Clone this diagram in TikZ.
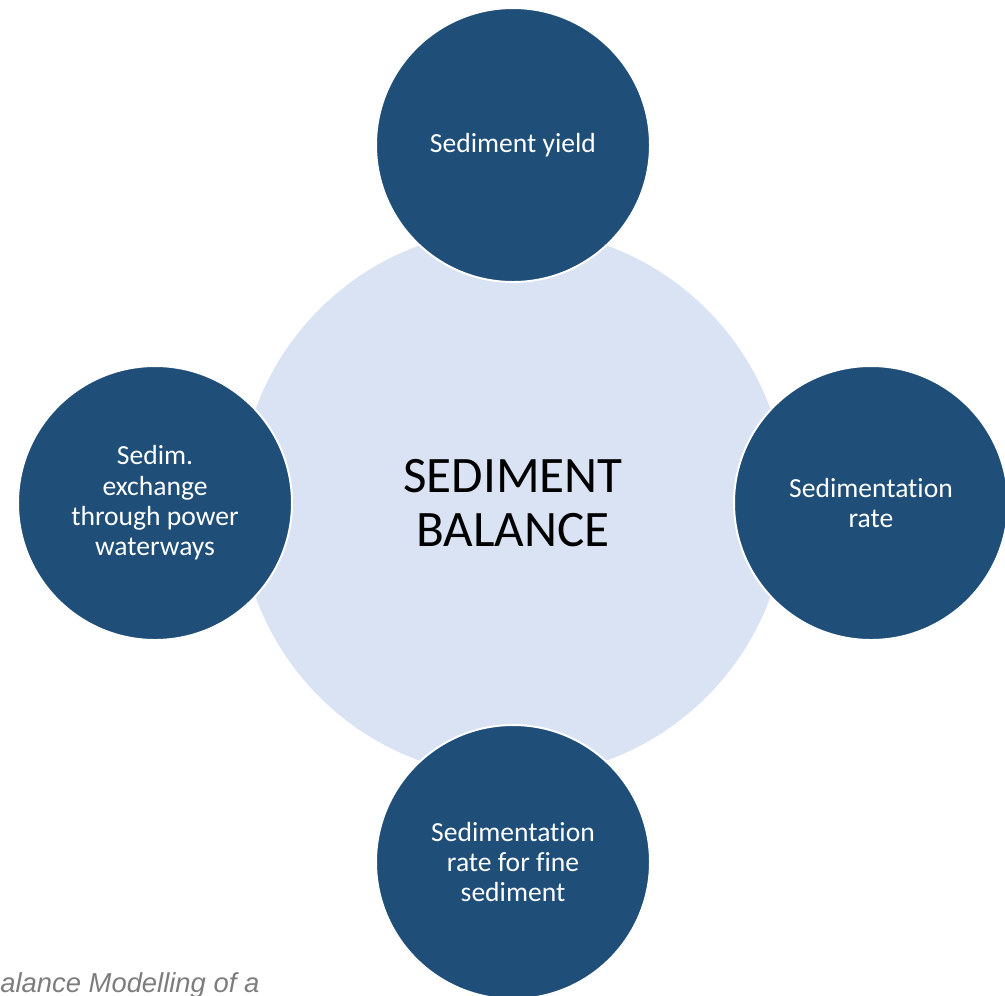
\documentclass[tikz,border=0pt]{standalone}
\usepackage{fontspec}
\setmainfont{Carlito}[Ligatures=NoCommon]
\newfontfamily\notefont{Liberation Sans}

\definecolor{balanceblue}{RGB}{218,227,243}
\definecolor{termblue}{RGB}{31,78,121}
\definecolor{notegray}{RGB}{125,125,125}

\tikzset{
    balance/.style={circle, fill=balanceblue, minimum size=10.96cm, inner sep=0pt,
        align=center, font=\fontsize{29.1}{30.6}\selectfont},
    term/.style={circle, fill=termblue, draw=white, line width=1.1pt, minimum size=5.48cm,
        inner sep=0pt, align=center, text=white, font=\fontsize{15.7}{17.3}\selectfont}
}

\begin{document}
\begin{tikzpicture}[x=0.02cm, y=-0.02cm]
    \useasboundingbox (0,0) rectangle (1005,995);

    \node[balance] (bal) at (513,503) {SEDIMENT\\BALANCE};

    \node[term] (yield) at (513,145) {Sediment yield};
    \node[term] (rate)  at (871,503) {Sedimentation\\rate};
    \node[term] (fine)  at (513,862) {Sedimentation\\rate for fine\\sediment};
    \node[term] (exch)  at (155,503) {Sedim.\\exchange\\through power\\waterways};

    \node[anchor=base west, inner sep=0pt, text=notegray, font=\notefont\itshape\fontsize{15.6}{18}\selectfont]
        (note) at (0,992) {alance Modelling of a};
\end{tikzpicture}
\end{document}
